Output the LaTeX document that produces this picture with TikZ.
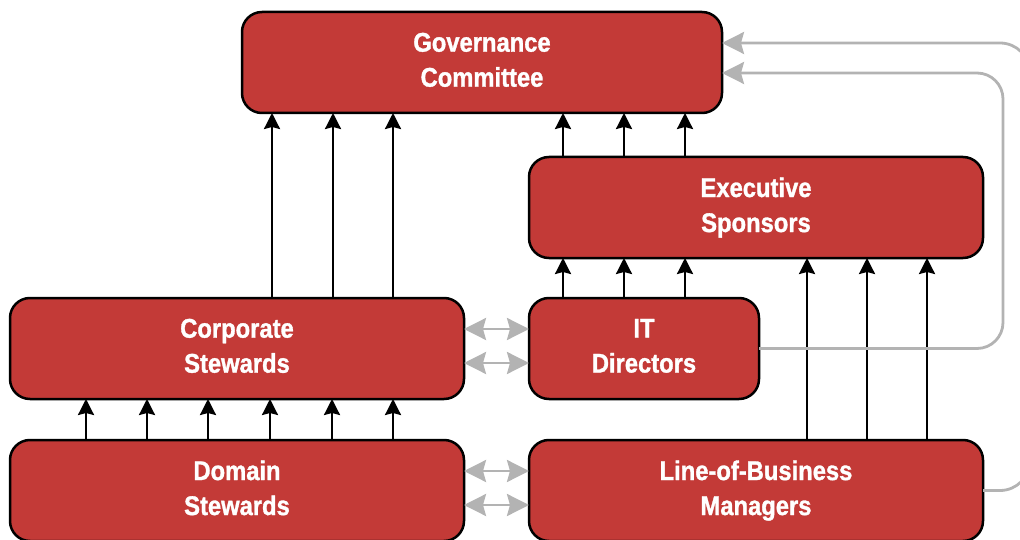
\documentclass[tikz,border=0pt]{standalone}
\usepackage{fontspec}
\setmainfont{Liberation Sans}[FakeStretch=0.88,BoldFeatures={FakeBold=1.2}]
\usetikzlibrary{arrows.meta,calc}
\definecolor{boxred}{HTML}{C33A37}
\definecolor{linegray}{HTML}{B3B3B3}
\tikzset{
  rbox/.style={draw=black, line width=2.5pt, fill=boxred, rounded corners=20pt,
    outer sep=0pt, inner sep=0pt, align=center, text=white, text depth=5.5pt,
    font=\bfseries\fontsize{27}{35}\selectfont},
  blk/.style={draw=black, line width=2.5pt, -{Stealth[length=16pt,width=16pt,inset=2pt]}},
  gry/.style={draw=linegray, line width=2.8pt, -{Stealth[length=22pt,width=22pt,inset=3pt]}},
  gry2/.style={draw=linegray, line width=2.8pt, {Stealth[length=22pt,width=22pt,inset=3pt]}-{Stealth[length=22pt,width=22pt,inset=3pt]}},
}
\begin{document}
\begin{tikzpicture}[x=1pt,y=-1pt]
\useasboundingbox (0,0) rectangle (1020,540);
\clip (0,0) rectangle (1020,540);
\node[rbox, minimum width=480pt, minimum height=101pt] (gov) at (482,62.5) {Governance\\Committee};
\node[rbox, minimum width=454pt, minimum height=101pt] (exec) at (756,207.5) {Executive\\Sponsors};
\node[rbox, minimum width=454pt, minimum height=101pt] (corp) at (237,348.5) {Corporate\\Stewards};
\node[rbox, minimum width=230pt, minimum height=101pt] (itd) at (644,348.5) {IT\\Directors};
\node[rbox, minimum width=454pt, minimum height=101pt] (dom) at (237,490.5) {Domain\\Stewards};
\node[rbox, minimum width=454pt, minimum height=101pt] (lob) at (756,490.5) {Line-of-Business\\Managers};
% black arrows
\foreach \x in {272,333,393} \draw[blk] (corp.north -| \x,0) -- (gov.south -| \x,0);
\foreach \x in {86,147,208,270,332,393} \draw[blk] (dom.north -| \x,0) -- (corp.south -| \x,0);
\foreach \x in {563,624,685} \draw[blk] (exec.north -| \x,0) -- (gov.south -| \x,0);
\foreach \x in {563,624,685} \draw[blk] (itd.north -| \x,0) -- (exec.south -| \x,0);
\foreach \x in {807,867,927} \draw[blk] (lob.north -| \x,0) -- (exec.south -| \x,0);
% gray double arrows
\foreach \y in {329,363} \draw[gry2] (corp.east |- 0,\y) -- (itd.west |- 0,\y);
\foreach \y in {471,505} \draw[gry2] (dom.east |- 0,\y) -- (lob.west |- 0,\y);
% gray loops
\coordinate (r1) at (1003,73);
\coordinate (r2) at (1030,43);
\draw[gry, rounded corners=26pt] (itd.east) -| (r1) -- (gov.east |- r1);
\draw[gry, rounded corners=30pt] (lob.east) -| (r2) -- (gov.east |- r2);
\end{tikzpicture}
\end{document}
